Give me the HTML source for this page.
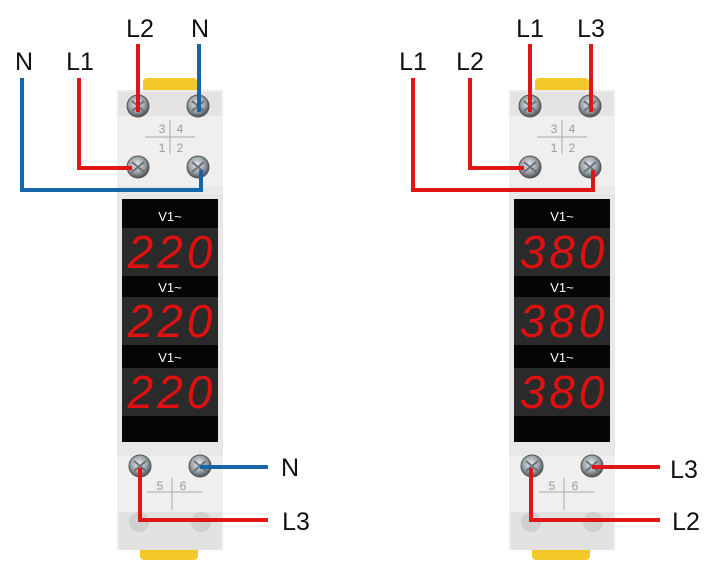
<!DOCTYPE html>
<html><head><style>
html,body{margin:0;padding:0;background:#fff;}
svg{display:block;}
text{font-family:"Liberation Sans",sans-serif;}
</style></head><body>
<svg width="727" height="565" viewBox="0 0 727 565" xmlns="http://www.w3.org/2000/svg">
<defs>
<radialGradient id="sc" cx="45%" cy="40%" r="60%"><stop offset="0" stop-color="#e8ecee"/><stop offset="0.6" stop-color="#9aa3a8"/><stop offset="1" stop-color="#4a5055"/></radialGradient>
<g id="screw"><circle r="11" fill="url(#sc)" stroke="#555" stroke-width="1"/><path d="M-6,-5 L6,5 M-6,5 L6,-5" stroke="#6a7378" stroke-width="2"/></g>
<g id="dev">
  <rect x="26" y="78" width="54" height="16" rx="4" fill="#f2c928"/>
  <rect x="23" y="542" width="58" height="18" rx="4" fill="#f2c928"/>
  <rect x="0" y="90" width="106" height="460" fill="#ececec"/>
  <rect x="2" y="92" width="102" height="24" fill="#e4e4e4"/>
  <rect x="0" y="116" width="106" height="70" fill="#efefef"/>
  <rect x="0" y="186" width="106" height="270" fill="#e8e8e8"/>
  <rect x="0" y="456" width="106" height="56" fill="#efefef"/>
  <rect x="2" y="512" width="102" height="38" fill="#e2e2e2"/>
  <circle cx="22" cy="522" r="10" fill="#d0d0d0"/><circle cx="84" cy="522" r="10" fill="#d0d0d0"/>
  <line x1="28" y1="137" x2="78" y2="137" stroke="#aaa"/><line x1="53" y1="120" x2="53" y2="154" stroke="#aaa"/>
  <text x="45" y="133" font-size="12" fill="#999" text-anchor="middle">3</text>
  <text x="63" y="133" font-size="12" fill="#999" text-anchor="middle">4</text>
  <text x="45" y="152" font-size="12" fill="#999" text-anchor="middle">1</text>
  <text x="63" y="152" font-size="12" fill="#999" text-anchor="middle">2</text>
  <line x1="30" y1="492" x2="85" y2="492" stroke="#aaa"/><line x1="55" y1="478" x2="55" y2="510" stroke="#aaa"/>
  <text x="43" y="490" font-size="12" fill="#999" text-anchor="middle">5</text>
  <text x="66" y="490" font-size="12" fill="#999" text-anchor="middle">6</text>
  <rect x="5" y="199" width="96" height="243" fill="#050505"/>
  <rect x="5" y="228" width="96" height="48" fill="#2a2a2a"/>
  <rect x="5" y="297" width="96" height="48" fill="#2a2a2a"/>
  <rect x="5" y="368" width="96" height="48" fill="#2a2a2a"/>
  <text x="53" y="221" font-size="13" fill="#fff" text-anchor="middle">V1~</text>
  <text x="53" y="292" font-size="13" fill="#fff" text-anchor="middle">V1~</text>
  <text x="53" y="362" font-size="13" fill="#fff" text-anchor="middle">V1~</text>
  <use href="#screw" x="21" y="106"/><use href="#screw" x="81" y="106"/>
  <use href="#screw" x="21" y="167"/><use href="#screw" x="81" y="167"/>
  <use href="#screw" x="23" y="466"/><use href="#screw" x="83" y="466"/>
</g>
</defs>
<use href="#dev" x="117" y="0"/>
<use href="#dev" x="509" y="0"/>
<g font-family="Liberation Mono,monospace" font-style="italic" font-size="46" fill="#e01010" text-anchor="middle" letter-spacing="4">
<text x="172" y="268">220</text><text x="172" y="337">220</text><text x="172" y="408">220</text>
<text x="564" y="268">380</text><text x="564" y="337">380</text><text x="564" y="408">380</text>
</g>
<g fill="none" stroke-width="4">
<polyline points="22,78 22,190 201,190 201,170" stroke="#1565a8"/>
<polyline points="79,78 79,168 132,168" stroke="#e01515"/>
<line x1="138" y1="44" x2="138" y2="112" stroke="#e01515"/>
<line x1="199" y1="44" x2="199" y2="112" stroke="#1565a8"/>
<line x1="200" y1="467" x2="268" y2="467" stroke="#1565a8"/>
<polyline points="140,468 140,520 268,520" stroke="#e01515"/>
<polyline points="413,78 413,190 593,190 593,170" stroke="#e01515"/>
<polyline points="470,78 470,168 524,168" stroke="#e01515"/>
<line x1="530" y1="44" x2="530" y2="112" stroke="#e01515"/>
<line x1="591" y1="44" x2="591" y2="112" stroke="#e01515"/>
<line x1="592" y1="467" x2="660" y2="467" stroke="#e01515"/>
<polyline points="531,468 531,520 660,520" stroke="#e01515"/>
</g>
<g font-size="25" fill="#111" text-anchor="middle">
<text x="24" y="70">N</text><text x="80" y="70">L1</text>
<text x="140" y="37">L2</text><text x="200" y="37">N</text>
<text x="290" y="476">N</text><text x="296" y="530">L3</text>
<text x="413" y="70">L1</text><text x="470" y="70">L2</text>
<text x="530" y="37">L1</text><text x="591" y="37">L3</text>
<text x="684" y="478">L3</text><text x="686" y="530">L2</text>
</g>
</svg>
</body></html>
